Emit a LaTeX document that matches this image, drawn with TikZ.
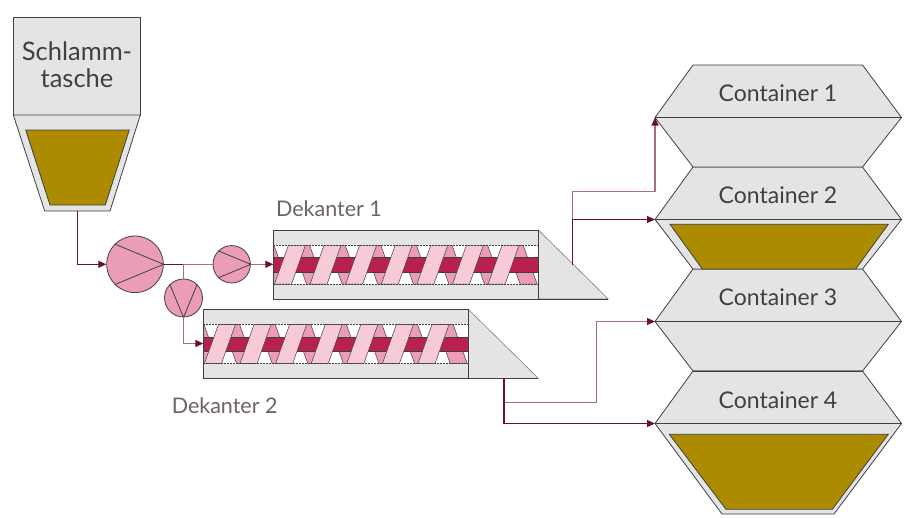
\documentclass[tikz,border=0pt]{standalone}
\usepackage{fontspec}
\setmainfont{Lato}
\usetikzlibrary{arrows.meta}
\definecolor{dkred}{HTML}{6B0F2D}
\definecolor{mauve}{HTML}{A8707F}
\definecolor{grayfill}{HTML}{E4E4E4}
\definecolor{olive}{HTML}{AD8B00}
\definecolor{pumppink}{HTML}{EB9DB5}
\definecolor{lightpink}{HTML}{F6CAD7}
\definecolor{crimson}{HTML}{B8204E}
\definecolor{txt}{HTML}{404040}
\definecolor{dektxt}{HTML}{6E6262}
\definecolor{edge}{HTML}{404040}
\tikzset{
  edgeline/.style={draw=edge, line width=0.9pt},
  grayshape/.style={fill=grayfill, draw=edge, line width=0.8pt},
  oliveshape/.style={fill=olive, draw=edge, line width=0.8pt},
  pump/.style={circle, fill=pumppink, draw=edge, line width=0.8pt, inner sep=0pt},
  flowdark/.style={draw=dkred, line width=1.1pt},
  flowlight/.style={draw=mauve, line width=1.1pt},
  tip/.style={-{Triangle[length=8pt,width=7pt,color=dkred]}},
  lbl/.style={text=txt, inner sep=0pt, font=\fontsize{23}{27}\selectfont},
  biglbl/.style={text=txt, inner sep=0pt, font=\fontsize{25.5}{30}\selectfont, anchor=base},
  deklbl/.style={text=dektxt, inner sep=0pt, font=\fontsize{21.5}{26}\selectfont},
  decanter/.pic={
    \fill[grayfill] (0,0) rectangle (265,69);
    \fill[white] (0,15) rectangle (265,54);
    \begin{scope}
      \clip (0,15) rectangle (265,54);
      \foreach \k in {-1,...,7}{
        \pgfmathsetmacro\bb{35.6*\k+19.2}
        \filldraw[fill=pumppink, draw=edge, line width=0.5pt] (\bb,15) -- ++(17,0) -- ++(14,39) -- ++(-17,0) -- cycle;
      }
      \filldraw[fill=crimson, draw=edge, line width=0.5pt] (-1,27.5) rectangle (266,42);
      \foreach \k in {0,...,6}{
        \pgfmathsetmacro\aa{35.6*\k+1.2}
        \filldraw[fill=lightpink, draw=edge, line width=0.5pt] (\aa,54) -- ++(17,0) -- ++(14,-39) -- ++(-17,0) -- cycle;
      }
    \end{scope}
    \draw[edge, dash pattern=on 2pt off 1pt, line width=0.6pt] (0,15) rectangle (265,54);
    \draw[edgeline] (0,0) rectangle (265,69);
    \filldraw[fill=grayfill, draw=gray, line width=0.6pt] (265,0) -- (335,69) -- (265,69) -- cycle;
    \draw[edgeline] (265,69) -- (335,69);
    \draw[edge, line width=1.6pt] (265,0) -- (265,69);
  }
}
\begin{document}
\begin{tikzpicture}[x=1pt,y=-1pt]
\useasboundingbox (0,0) rectangle (909,517);
\fill[white] (0,0) rectangle (909,517);

% Schlammtasche
\filldraw[grayshape] (13.3,17.3) rectangle (140.3,115);
\filldraw[grayshape] (13.3,115) -- (140.3,115) -- (110,211) -- (44.7,211) -- cycle;
\filldraw[oliveshape] (25.7,130) -- (129.3,130) -- (105.3,205) -- (50,205) -- cycle;
\node[biglbl] (st1) at (77,60) {Schlamm-};
\node[biglbl] (st2) at (77,87.3) {tasche};
\coordinate (hop) at (77.3,211);

% Pumps
\node[pump, minimum size=56.6pt] (p1) at (135,264.3) {};
\node[pump, minimum size=37.4pt] (p2) at (231.7,264.3) {};
\node[pump, minimum size=38pt] (p3) at (183.5,298) {};
\draw[edge, line width=0.8pt] (p1.135) -- (p1.east) -- (p1.225);
\draw[edge, line width=0.8pt] (p2.135) -- (p2.east) -- (p2.225);
\draw[edge, line width=0.8pt] (p3.135) -- (p3.south) -- (p3.45);
\coordinate (br) at (183.5,264.3);

% Decanters
\pic (d1) at (273.3,230) {decanter};
\pic (d2) at (203.3,309.3) {decanter};
\coordinate (d1in) at (273.3,264.3);
\coordinate (d2in) at (203.3,343.5);
\coordinate (d1out) at (572.7,264.6);
\coordinate (d2out) at (504,378.3);
\node[deklbl] (dk1) at (329,208.5) {Dekanter 1};
\node[deklbl] (dk2) at (224.7,406) {Dekanter 2};

% Containers
\foreach \t in {269,167,65}{
  \filldraw[grayshape] (693,\t) -- (862.5,\t) -- (901.5,\t+52.5) -- (862.5,\t+102) -- (693,\t+102) -- (655,\t+52.5) -- cycle;
  \draw[edgeline] (655,\t+52.5) -- (901.5,\t+52.5);
}
\filldraw[grayshape] (693,371) -- (862.5,371) -- (901.5,423.5) -- (834,514) -- (722,514) -- (655,423.5) -- cycle;
\draw[edgeline] (655,423.5) -- (901.5,423.5);
\draw[edgeline] (693,371) -- (862.5,371);
\filldraw[oliveshape] (670,224.3) -- (888.3,224.3) -- (855.7,269) -- (702.3,269) -- cycle;
\filldraw[oliveshape] (669.3,434.3) -- (888.3,434.3) -- (832.3,509.3) -- (726,509.3) -- cycle;
\coordinate (c1w) at (655,117.5);
\coordinate (c2w) at (655,219.5);
\coordinate (c3w) at (655,321.5);
\coordinate (c4w) at (655,423.5);
\coordinate (k1) at (655,191.7);
\coordinate (k3) at (596.7,402.7);
\node[lbl] (t1) at (778,93.5) {Container 1};
\node[lbl] (t2) at (778,195.5) {Container 2};
\node[lbl] (t3) at (778,297.5) {Container 3};
\node[lbl] (t4) at (778,400) {Container 4};

% Flows
\draw[flowdark, tip] (hop) |- (p1.west);
\draw[flowdark] (p1.east) -- (br);
\draw[flowlight] (br) -- (p2.west);
\draw[flowlight] (br) -- (p3.north);
\draw[flowlight, tip] (p2.east) -- (d1in);
\draw[flowlight, tip] (p3.south) |- (d2in);
\draw[flowlight, tip] (d1out) |- (k1) -- (c1w);
\draw[flowdark, tip] (d1out) |- (c2w);
\draw[flowlight, tip] (d2out) |- (k3) |- (c3w);
\draw[flowdark, tip] (d2out) |- (c4w);
\end{tikzpicture}
\end{document}
